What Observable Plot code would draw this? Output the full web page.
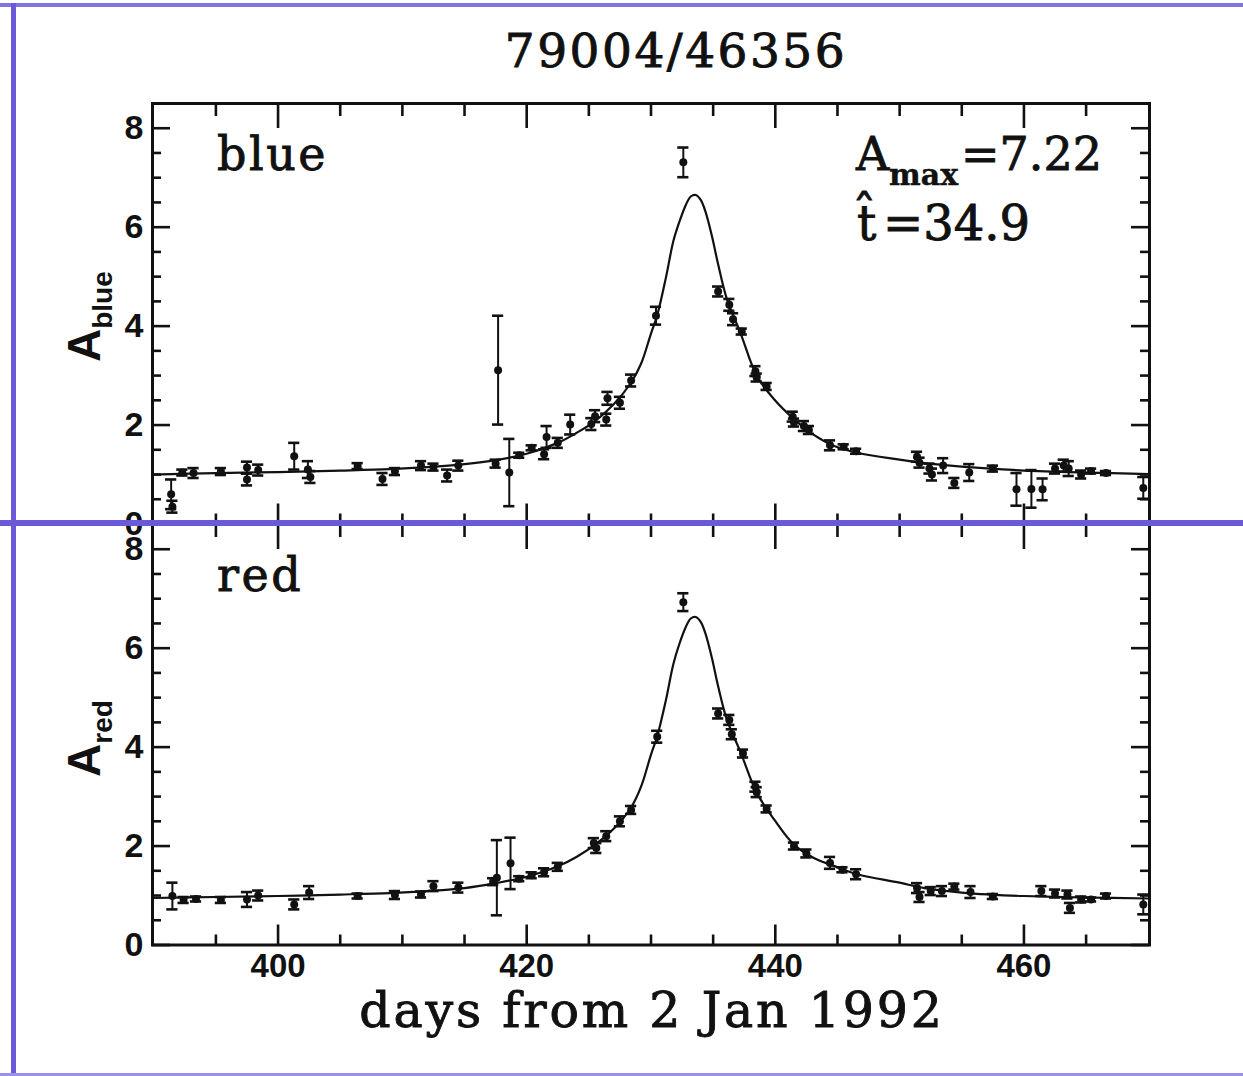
<!DOCTYPE html>
<html><head><meta charset="utf-8">
<script src="https://cdn.jsdelivr.net/npm/d3@7"></script>
<script src="https://cdn.jsdelivr.net/npm/@observablehq/plot@0.6"></script>
<style>
body{margin:0;background:#fff;}
#wrap{position:relative;width:1243px;height:1076px;overflow:hidden;background:#fff;}
.abs{position:absolute;left:0;}
.bar{position:absolute;background:#6a5ad8;}
</style></head><body><div id="wrap"></div>
<script>
// ---------- data ----------
const xMajor = [400, 420, 440, 460];
const xMinor = [395, 405, 410, 415, 425, 430, 435, 445, 450, 455, 465];
const yMajor = [0, 2, 4, 6, 8];
const yMinor = [0.5, 1, 1.5, 2.5, 3, 3.5, 4.5, 5, 5.5, 6.5, 7, 7.5];

const blueDays = [391.4,391.5,392.3,393.2,395.4,397.5,397.5,398.4,401.3,402.4,402.6,406.4,408.4,409.4,411.5,412.5,413.6,414.5,417.5,417.7,418.6,419.4,420.4,421.4,421.6,422.5,423.5,425.2,425.5,426.4,426.5,427.5,428.4,430.4,432.6,435.4,436.3,436.6,437.3,438.4,438.5,439.3,441.4,441.5,442.3,442.7,444.4,445.5,446.5,451.4,451.6,452.4,452.6,453.5,454.4,455.6,457.5,459.4,460.6,461.5,462.5,463.2,463.6,464.6,465.4,466.6,469.6];
const blueAmp  = [0.60,0.35,1.04,1.03,1.06,1.14,0.90,1.09,1.37,1.10,0.95,1.17,0.91,1.06,1.18,1.15,0.98,1.18,1.22,3.11,1.04,1.39,1.54,1.41,1.76,1.64,2.01,2.02,2.18,2.11,2.54,2.45,2.90,4.21,7.31,4.70,4.43,4.14,3.89,3.09,2.96,2.78,2.17,2.05,1.98,1.90,1.59,1.56,1.47,1.36,1.24,1.12,1.00,1.18,0.83,1.04,1.12,0.70,0.71,0.70,1.12,1.18,1.12,1.00,1.07,1.03,0.73];
const blueErr  = [0.30,0.12,0.06,0.10,0.07,0.12,0.12,0.11,0.27,0.17,0.12,0.06,0.12,0.07,0.09,0.07,0.12,0.10,0.08,1.10,0.68,0.05,0.05,0.10,0.22,0.10,0.20,0.12,0.12,0.12,0.13,0.12,0.12,0.18,0.30,0.10,0.12,0.12,0.06,0.10,0.08,0.07,0.10,0.08,0.10,0.08,0.10,0.05,0.05,0.10,0.10,0.10,0.12,0.15,0.10,0.17,0.06,0.33,0.38,0.22,0.10,0.12,0.15,0.08,0.05,0.04,0.22];

const redDays = [391.5,392.4,393.4,395.4,397.5,398.4,401.3,402.5,406.4,409.4,411.5,412.5,414.5,417.3,417.6,418.7,419.4,420.4,421.4,422.5,425.4,425.6,426.4,427.5,428.4,430.5,432.6,435.4,436.3,436.5,437.4,438.4,438.5,439.3,441.5,442.5,444.4,445.4,446.5,451.4,451.6,452.5,453.4,454.4,455.7,457.5,461.4,462.5,463.5,463.7,464.6,465.4,466.6,469.6];
const redAmp  = [0.99,0.91,0.93,0.91,0.92,1.00,0.82,1.06,0.99,1.01,1.02,1.19,1.16,1.28,1.36,1.65,1.34,1.41,1.47,1.58,2.06,1.96,2.20,2.50,2.73,4.21,6.93,4.68,4.55,4.26,3.87,3.20,3.09,2.75,2.00,1.85,1.66,1.52,1.43,1.15,0.97,1.09,1.09,1.18,1.07,0.98,1.09,1.04,1.02,0.75,0.92,0.92,0.99,0.82];
const redErr  = [0.27,0.06,0.05,0.06,0.15,0.10,0.10,0.13,0.05,0.08,0.06,0.10,0.10,0.07,0.76,0.52,0.05,0.06,0.08,0.08,0.10,0.10,0.10,0.10,0.08,0.12,0.18,0.10,0.10,0.10,0.08,0.10,0.10,0.07,0.07,0.08,0.12,0.05,0.10,0.10,0.10,0.08,0.10,0.06,0.12,0.05,0.10,0.08,0.08,0.10,0.06,0.04,0.05,0.20];

const fitDays = [389.9,395,400,405,409,412,415,417.5,420,422.5,424,425.5,427,428.4,429.2,430,430.5,431.2,431.8,432.3,432.8,433.2,433.6,434.0,434.4,434.9,435.4,436.1,437.2,438.5,439.9,441.5,443.1,444.7,446.6,450,452,455,457.3,460,465,470.1];
const blueFit = [1.00,1.03,1.05,1.08,1.11,1.15,1.21,1.29,1.42,1.64,1.84,2.08,2.42,2.86,3.24,3.85,4.22,4.98,5.72,6.12,6.45,6.62,6.65,6.55,6.30,5.82,5.25,4.55,3.86,3.00,2.52,2.12,1.80,1.58,1.44,1.30,1.23,1.16,1.12,1.08,1.04,1.01];
const redFit  = [0.95,0.97,0.99,1.02,1.05,1.09,1.15,1.25,1.38,1.59,1.78,2.03,2.35,2.78,3.20,3.85,4.22,4.95,5.68,6.10,6.43,6.60,6.63,6.53,6.28,5.80,5.23,4.56,3.90,3.08,2.54,2.03,1.76,1.60,1.43,1.26,1.15,1.06,1.02,0.99,0.96,0.94];

// ---------- layout ----------
const W = 1243, ML = 152, MR = 94, PANEL_H = 420.5;
const X_DOMAIN = [389.9, 470.1], Y_DOMAIN = [0, 8.5];
const CAP = 0.45;
const INK = "#111";
const tickFont = "Liberation Sans, Arial, Helvetica, sans-serif";

function panel(days, amp, err, fitA, opt) {
  const pts = days.map((d, i) => ({day: d, a: amp[i], e: err[i]}));
  const fit = fitDays.map((d, i) => ({day: d, a: fitA[i]}));
  const iw = W - ML - MR, ih = PANEL_H;
  const k = {stroke: INK, strokeWidth: 2.6};
  const marks = [
    Plot.ruleY(yMajor, {y: d => d, insetRight: iw - 18, ...k}),
    Plot.ruleY(yMinor, {y: d => d, insetRight: iw - 9, ...k}),
    Plot.ruleY(yMajor, {y: d => d, insetLeft: iw - 18, ...k}),
    Plot.ruleY(yMinor, {y: d => d, insetLeft: iw - 9, ...k}),
    Plot.ruleX(xMajor, {x: d => d, insetBottom: ih - 25, ...k}),
    Plot.ruleX(xMinor, {x: d => d, insetBottom: ih - 13, ...k}),
    Plot.ruleX(xMajor, {x: d => d, insetTop: ih - 20, ...k}),
    Plot.ruleX(xMinor, {x: d => d, insetTop: ih - 10, ...k}),
    Plot.line(fit, {x: "day", y: "a", curve: "catmull-rom", stroke: INK, strokeWidth: 2.2}),
    Plot.ruleX(pts, {x: "day", y1: d => d.a - d.e, y2: d => d.a + d.e, stroke: INK, strokeWidth: 2}),
    Plot.ruleY(pts, {y: d => d.a + d.e, x1: d => d.day - CAP, x2: d => d.day + CAP, stroke: INK, strokeWidth: 2.6}),
    Plot.ruleY(pts, {y: d => d.a - d.e, x1: d => d.day - CAP, x2: d => d.day + CAP, stroke: INK, strokeWidth: 2.6}),
    Plot.dot(pts, {x: "day", y: "a", r: 4, fill: INK, stroke: "none"}),
    Plot.frame({stroke: INK, strokeWidth: 3}),
    Plot.axisY({ticks: yMajor, tickSize: 0, tickPadding: 9, fontSize: 34, fontWeight: "bold", fontFamily: tickFont, fill: INK, label: null})
  ];
  if (opt.showX) marks.push(Plot.axisX({ticks: xMajor, tickSize: 0, tickPadding: 9, fontSize: 33, fontWeight: "bold", fontFamily: tickFont, fill: INK, label: null}));
  return Plot.plot({
    width: W, height: opt.mt + ih + opt.mb,
    marginLeft: ML, marginRight: MR, marginTop: opt.mt, marginBottom: opt.mb,
    x: {domain: X_DOMAIN, axis: null},
    y: {domain: Y_DOMAIN, axis: null},
    style: {background: "transparent", overflow: "visible"},
    marks
  });
}

const wrap = document.getElementById("wrap");
const topPlot = panel(blueDays, blueAmp, blueErr, blueFit, {mt: 103, mb: 12, showX: false});
topPlot.style.position = "absolute"; topPlot.style.left = "0px"; topPlot.style.top = "0px";
wrap.appendChild(topPlot);
const botPlot = panel(redDays, redAmp, redErr, redFit, {mt: 12, mb: 132, showX: true});
botPlot.style.position = "absolute"; botPlot.style.left = "0px"; botPlot.style.top = "511.5px";
wrap.appendChild(botPlot);

// ---------- text overlay ----------
const ov = d3.select(wrap).append("svg")
  .attr("width", W).attr("height", 1076)
  .style("position", "absolute").style("left", "0px").style("top", "0px");
const serif = "DejaVu Serif, serif";
function serifText(x, y, size, str, extra = {}) {
  const t = ov.append("text").attr("x", x).attr("y", y)
    .attr("font-family", serif).attr("font-size", size).attr("fill", INK)
    .attr("stroke", INK).attr("stroke-width", 0.9).text(str);
  for (const [a, v] of Object.entries(extra)) t.attr(a, v);
  return t;
}
serifText(676, 67, 47, "79004/46356", {"text-anchor": "middle", "letter-spacing": 2.5});
serifText(652, 1027, 49, "days from 2 Jan 1992", {"text-anchor": "middle", "letter-spacing": 2.8});
serifText(217, 170, 46, "blue", {"letter-spacing": 2.5});
serifText(217, 591, 46, "red", {"letter-spacing": 2.5});
serifText(856, 170, 46, "A");
serifText(889, 185, 30, "max", {"font-weight": "bold", "stroke-width": 0.4});
serifText(961, 170, 46, "=7.22");
serifText(857, 240, 48, "t\u0302");
serifText(883, 240, 48, "=34.9");

function yLabel(x, y, sub) {
  const t = ov.append("text").attr("transform", `translate(${x},${y}) rotate(-90)`)
    .attr("font-family", tickFont).attr("font-weight", "bold").attr("fill", INK);
  t.append("tspan").attr("font-size", 46).text("A");
  t.append("tspan").attr("font-size", 28).attr("dy", 12).text(sub);
}
yLabel(100, 362, "blue");
yLabel(100, 777, "red");

// ---------- slide frame overlay ----------
function bar(l, t, w, h, c) {
  const b = document.createElement("div"); b.className = "bar";
  Object.assign(b.style, {left: l + "px", top: t + "px", width: w + "px", height: h + "px", background: c});
  wrap.appendChild(b);
}
bar(0, 3, 1243, 4, "#7f73e6");
bar(11, 3, 5, 1073, "#6a5ad8");
bar(0, 520, 1243, 6, "#6a5ad8");
bar(0, 1073, 1243, 3, "#9a90ee");
</script></body></html>
